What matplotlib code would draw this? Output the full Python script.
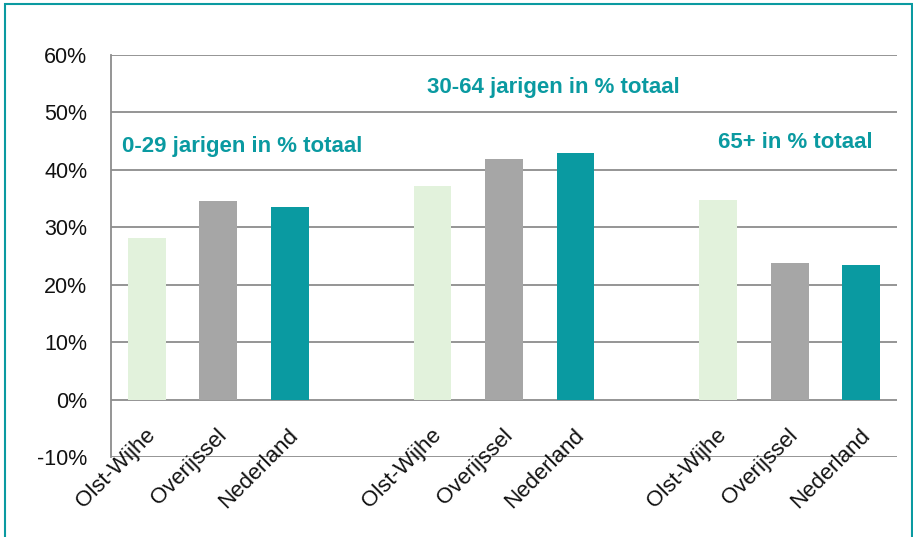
import numpy as np
import matplotlib.pyplot as plt
from matplotlib.patches import Rectangle

plt.rcParams['font.family'] = ['Liberation Sans', 'DejaVu Sans']

# Gegevens
regios = ['Olst-Wijhe', 'Overijssel', 'Nederland']
groepen = ['0-29 jarigen in % totaal', '30-64 jarigen in % totaal', '65+ in % totaal']
waarden = [
    [28.1, 34.5, 33.5],
    [37.2, 41.9, 42.9],
    [34.7, 23.7, 23.5],
]
kleuren = ['#e2f2dc', '#a6a6a6', '#0a9aa1']
yticks = [-10, 0, 10, 20, 30, 40, 50, 60]
# positie en hoogte van de groepstitels
titel_x = [-0.35, 3.92, 8.0]
titel_y = [44.1, 54.4, 44.8]

teal = '#0a9aa1'
grijs = '#8c8c8c'

fig = plt.figure(figsize=(9.13, 5.37), dpi=100)
ax = fig.add_axes([111/913, 1 - 457/537, 786/913, 402/537])

for g, vals in enumerate(waarden):
    for r, v in enumerate(vals):
        x = g * 4 + r
        ax.bar(x, v, width=0.53, color=kleuren[r], zorder=3)
        ax.text(x - 0.03, -4.4, regios[r], rotation=45, rotation_mode='anchor',
                ha='right', va='top', fontsize=16, color='#111111')
    ax.text(titel_x[g], titel_y[g], groepen[g], fontsize=16, fontweight='bold',
            color=teal, va='center', ha='left')

ax.set_xlim(-0.5, 10.5)
ax.set_ylim(-10, 60)
ax.set_yticks(yticks)
ax.set_yticklabels([f'{t}%' for t in yticks], fontsize=15.5, color='#111111')
ax.set_xticks([])
ax.tick_params(axis='y', length=0, pad=17)
ax.grid(axis='y', color=grijs, linewidth=1.3, zorder=0)
ax.set_axisbelow(True)
for s in ['top', 'right', 'bottom']:
    ax.spines[s].set_visible(False)
ax.spines['left'].set_color(grijs)
ax.spines['left'].set_linewidth(1.3)

# kader om de figuur
fig.patches.append(Rectangle((5/913, -0.05), 907/913, 1.05 - 4/537, transform=fig.transFigure,
                             fill=False, edgecolor=teal, linewidth=1.5))

fig.savefig('out.png', dpi=100)
